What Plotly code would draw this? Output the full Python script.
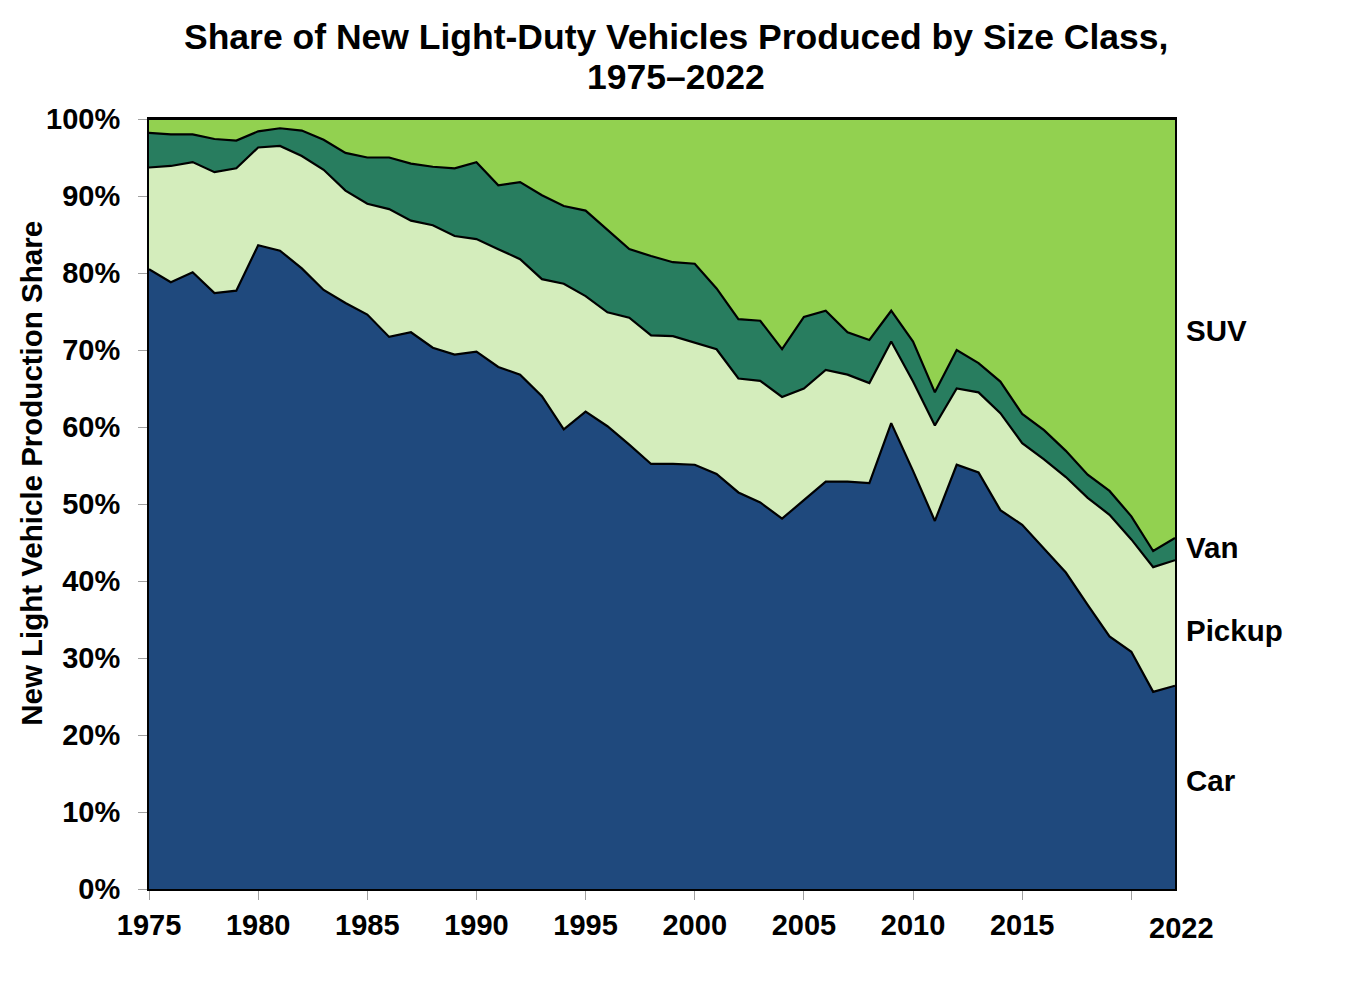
import plotly.graph_objects as go

years = list(range(1975, 2023))

# Cumulative boundaries (percent)
car = [80.5, 78.8, 80.1, 77.4, 77.7, 83.6, 82.9, 80.6, 77.8, 76.1,
       74.6, 71.7, 72.3, 70.3, 69.4, 69.8, 67.8, 66.8, 64.0, 59.7,
       62.0, 60.1, 57.7, 55.2, 55.2, 55.1, 53.9, 51.5, 50.2, 48.1,
       50.5, 52.9, 52.9, 52.7, 60.5, 54.3, 47.8, 55.1, 54.1, 49.2,
       47.3, 44.2, 41.1, 36.9, 32.8, 30.8, 25.6, 26.4]
car_pickup = [93.7, 93.9, 94.4, 93.1, 93.6, 96.3, 96.5, 95.2, 93.4, 90.7,
              89.0, 88.3, 86.8, 86.2, 84.8, 84.4, 83.1, 81.8, 79.2, 78.6,
              77.0, 74.9, 74.2, 71.9, 71.8, 71.0, 70.1, 66.3, 66.0, 63.9,
              65.0, 67.4, 66.8, 65.7, 71.1, 65.9, 60.2, 65.0, 64.5, 61.8,
              57.9, 55.8, 53.5, 50.8, 48.6, 45.4, 41.8, 42.7]
car_pickup_van = [98.2, 98.0, 98.0, 97.4, 97.2, 98.4, 98.8, 98.5, 97.3, 95.6,
                  95.0, 95.0, 94.2, 93.8, 93.6, 94.4, 91.4, 91.8, 90.1, 88.7,
                  88.1, 85.6, 83.1, 82.2, 81.4, 81.2, 78.0, 74.0, 73.8, 70.1,
                  74.3, 75.1, 72.3, 71.3, 75.1, 71.1, 64.5, 70.0, 68.3, 65.9,
                  61.7, 59.6, 56.9, 53.8, 51.7, 48.4, 43.9, 45.6]

pickup = [round(b - a, 1) for a, b in zip(car, car_pickup)]
van = [round(c - b, 1) for b, c in zip(car_pickup, car_pickup_van)]
suv = [round(100 - c, 1) for c in car_pickup_van]

series_names = ["Car", "Pickup", "Van", "SUV"]
series_values = [car, pickup, van, suv]
colors = ["#1F497D", "#D4EDBC", "#287D5F", "#92D150"]

tick_years = [1975, 1980, 1985, 1990, 1995, 2000, 2005, 2010, 2015, 2020]
tick_text = ["1975", "1980", "1985", "1990", "1995", "2000", "2005", "2010", "2015", ""]
y_ticks = [0, 10, 20, 30, 40, 50, 60, 70, 80, 90, 100]
y_tick_text = [f"{v}%" for v in y_ticks]

FONT = "Liberation Sans, Arial, sans-serif"

fig = go.Figure()
for name, vals, col in zip(series_names, series_values, colors):
    fig.add_trace(go.Scatter(
        x=years, y=vals, name=name, mode="lines",
        stackgroup="one", fillcolor=col,
        line=dict(color="black", width=2.2),
        hoverinfo="x+y+name",
    ))

fig.update_layout(
    width=1350, height=989,
    margin=dict(l=141, r=183, t=111, b=108, autoexpand=False),
    paper_bgcolor="white", plot_bgcolor="white",
    showlegend=False,
    font=dict(family=FONT, color="black", size=29),
)

fig.update_xaxes(
    range=[1975, 2022], tickvals=tick_years, ticktext=tick_text,
    ticks="outside", ticklen=9, tickwidth=1, tickcolor="#A0A0A0",
    showline=True, linecolor="black", linewidth=2, mirror=True,
    showgrid=False, zeroline=False, automargin=False,
    tickfont=dict(family=FONT, size=29, color="black", weight="bold"),
)
fig.update_yaxes(
    range=[0, 100], tickvals=y_ticks, ticktext=y_tick_text,
    ticks="outside", ticklen=9, tickwidth=1, tickcolor="#A0A0A0",
    ticklabelstandoff=12,
    showline=True, linecolor="black", linewidth=2, mirror=True,
    showgrid=False, zeroline=False, automargin=False,
    tickfont=dict(family=FONT, size=29, color="black", weight="bold"),
)

# Title (two lines)
title_font = dict(family=FONT, size=35.5, color="black")
fig.add_annotation(
    text="<b>Share of New Light-Duty Vehicles Produced by Size Class,</b>",
    xref="paper", yref="paper", x=0.5136, y=1.1065, xanchor="center", yanchor="middle",
    showarrow=False, font=title_font)
fig.add_annotation(
    text="<b>1975–2022</b>",
    xref="paper", yref="paper", x=0.5136, y=1.0545, xanchor="center", yanchor="middle",
    showarrow=False, font=title_font)

# Y axis title
fig.add_annotation(
    text="<b>New Light Vehicle Production Share</b>", textangle=-90,
    xref="paper", yref="paper", x=-0.1144, y=0.540, xanchor="center", yanchor="middle",
    showarrow=False, font=dict(family=FONT, size=29.5, color="black"))

label_font = dict(family=FONT, size=29.5, color="black")
for text, yv in [("SUV", 72.5), ("Van", 44.3), ("Pickup", 33.6), ("Car", 14.1)]:
    fig.add_annotation(text=f"<b>{text}</b>", xref="paper", yref="y",
                       x=1.009, y=yv, xanchor="left", yanchor="middle",
                       showarrow=False, font=label_font)

fig.add_annotation(text="<b>2022</b>", xref="paper", yref="paper",
                   x=1.006, y=0, xanchor="center", yanchor="middle", yshift=-39,
                   showarrow=False, font=dict(family=FONT, size=29, color="black"))

fig.write_html("out.html")
